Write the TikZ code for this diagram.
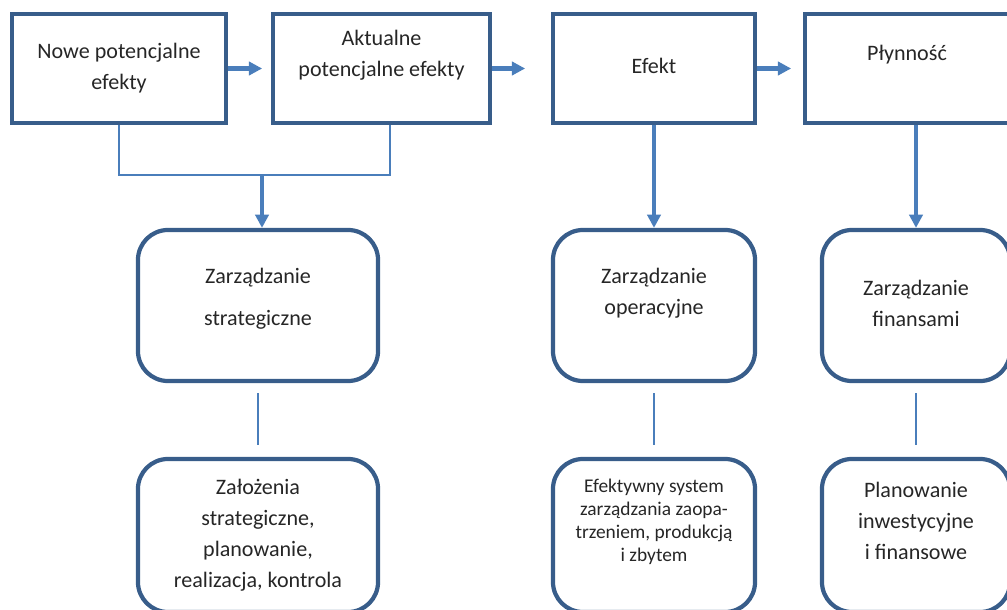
\documentclass[tikz,border=0pt]{standalone}
\usepackage{fontspec}
\setmainfont{Carlito}
\usetikzlibrary{arrows.meta}
\definecolor{boxblue}{RGB}{56,93,138}
\definecolor{linkblue}{RGB}{74,126,187}
\definecolor{txtgray}{RGB}{38,38,38}
\tikzset{
  sqbox/.style={draw=boxblue, line width=3pt, inner sep=0pt, outer sep=1.5pt},
  rdbox/.style={sqbox, rounded corners=0.75cm},
  txt/.style={align=center, text=txtgray, font=\fontsize{15.7}{22}\selectfont},
  smalltxt/.style={txt, font=\fontsize{13.8}{16.4}\selectfont},
  flow/.style={draw=linkblue, line width=3pt, -{Triangle[length=9.5pt,width=9.5pt]}},
  link/.style={draw=linkblue, line width=1.2pt},
}
\begin{document}
\begin{tikzpicture}[x=0.025cm,y=-0.025cm]
\useasboundingbox (0,0) rectangle (1007,610);
\clip (0,0) rectangle (1007,610);
% top row
\node[sqbox, minimum width=5.35cm, minimum height=2.725cm] (nowe) at (119,68.5) {};
\node[sqbox, minimum width=5.425cm, minimum height=2.725cm] (akt) at (381.5,68.5) {};
\node[sqbox, minimum width=5.05cm, minimum height=2.725cm] (efekt) at (654,68.5) {};
\node[sqbox, minimum width=5.1cm, minimum height=2.725cm] (plyn) at (907,68.5) {};
\node[txt] (noweT) at (nowe.center) {Nowe potencjalne\\efekty};
\node[txt] (aktT) at ([yshift=0.34cm]akt.center) {Aktualne\\potencjalne efekty};
\node[txt] (efektT) at ([yshift=0.06cm]efekt.center) {Efekt};
\node[txt] (plynT) at ([yshift=0.34cm]plyn.center) {Płynność};
% middle row
\node[rdbox, minimum width=6cm, minimum height=3.775cm] (strat) at (258,305.5) {};
\node[rdbox, minimum width=5.05cm, minimum height=3.775cm] (oper) at (654,305.5) {};
\node[rdbox, minimum width=4.7cm, minimum height=3.775cm] (fin) at (916,305.5) {};
\node[txt] (stratT) at ([yshift=0.16cm]strat.center) {Zarządzanie\\[0.27cm]strategiczne};
\node[txt] (operT) at ([yshift=0.31cm]oper.center) {Zarządzanie\\operacyjne};
\node[txt] (finT) at ([yshift=0.05cm]fin.center) {Zarządzanie\\finansami};
% bottom row
\node[rdbox, minimum width=6cm, minimum height=3.825cm] (zal) at (258,535.5) {};
\node[rdbox, minimum width=5.05cm, minimum height=3.825cm] (efsys) at (654,535.5) {};
\node[rdbox, minimum width=4.7cm, minimum height=3.825cm] (plan) at (916,535.5) {};
\node[txt] (zalT) at (zal.center) {Założenia\\strategiczne,\\planowanie,\\realizacja, kontrola};
\node[smalltxt] (efsysT) at ([yshift=0.34cm]efsys.center) {Efektywny system\\zarządzania zaopa-\\trzeniem, produkcją\\i zbytem};
\node[txt] (planT) at ([yshift=0.36cm]plan.center) {Planowanie\\inwestycyjne\\i finansowe};
% connectors
\coordinate (join) at (262,175);
\coordinate (aktfoot) at ([xshift=0.21cm]akt.south);
\draw[flow] (nowe.east) -- ++(34,0);
\draw[flow] (akt.east) -- ++(33,0);
\draw[flow] (efekt.east) -- ++(34,0);
\draw[link] (nowe.south) |- (join) -| (aktfoot);
\draw[flow] (join) -- (join |- strat.north);
\draw[flow] (efekt.south) -- (oper.north);
\draw[flow] (plyn.south -| fin.north) -- (fin.north);
\draw[link] ([yshift=-0.25cm]strat.south) -- ([yshift=0.3cm]zal.north);
\draw[link] ([yshift=-0.25cm]oper.south) -- ([yshift=0.3cm]efsys.north);
\draw[link] ([yshift=-0.25cm]fin.south) -- ([yshift=0.3cm]plan.north);
\end{tikzpicture}
\end{document}
